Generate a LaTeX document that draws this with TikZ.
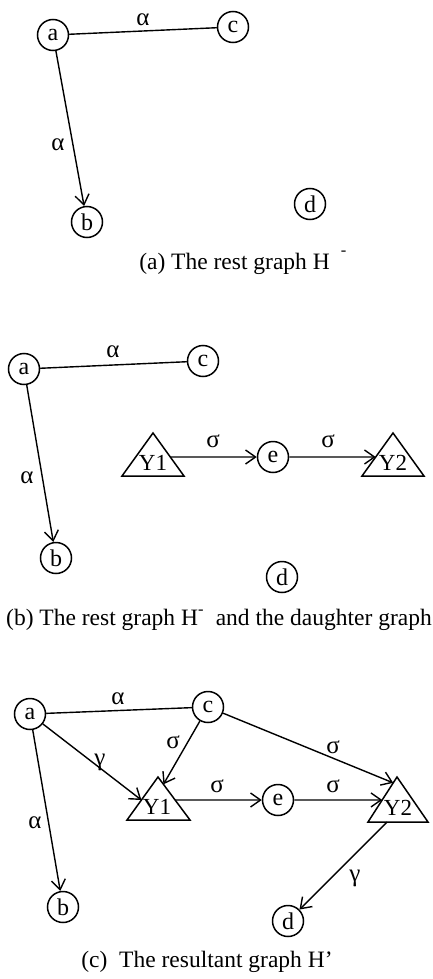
\documentclass[tikz,border=0pt]{standalone}
\usepackage{fontspec}
\setmainfont{Liberation Serif}
\usetikzlibrary{arrows.meta,calc}
\begin{document}
\begin{tikzpicture}[x=1pt,y=-1pt,
  vert/.style={draw,circle,minimum size=31pt,inner sep=0pt,line width=1.5pt,font=\fontsize{24}{26}\selectfont},
  edge/.style={line width=1.4pt},
  arr/.style={line width=1.4pt,-{Straight Barb[length=10pt,width=14pt,line width=1.4pt]}},
  lab/.style={inner sep=0pt,font=\fontsize{25}{27}\selectfont},
  ylab/.style={inner sep=0pt,font=\fontsize{23}{25}\selectfont},
  tri/.style={line width=1.5pt,line join=miter},
  captxt/.style={inner sep=0pt,font=\fontsize{23.5}{26}\selectfont}]
\useasboundingbox (0,0) rectangle (433,979);

% ---------- (a) ----------
\node[vert] (a1) at (53,35) {a};
\node[vert] (c1) at (233,27) {c};
\node[vert] (b1) at (87,222) {b};
\node[vert] (d1) at (310,204) {d};
\draw[edge] (a1) -- (c1);
\draw[arr] (a1) -- (b1);
\node[lab] (l1ac) at (143,20) {α};
\node[lab] (l1ab) at (58,145) {α};
\node[captxt] (capA) at (243,263) {(a) The rest graph H\hspace{11pt}\raisebox{0.2em}{\textsuperscript{-}}};

% ---------- (b) ----------
\node[vert] (a2) at (24,369) {a};
\node[vert] (c2) at (203,361) {c};
\node[vert] (b2) at (56,558) {b};
\node[vert] (d2) at (282,577) {d};
\node[vert] (e2) at (273,457) {e};
\coordinate (T2a) at (153,433);
\coordinate (L2a) at (122,476);
\coordinate (R2a) at (184,476);
\draw[tri] (T2a) -- (L2a) -- (R2a) -- cycle;
\node[ylab] (Y1b) at (153,463) {Y1};
\coordinate (T2b) at (393,433);
\coordinate (L2b) at (362,476);
\coordinate (R2b) at (424,476);
\draw[tri] (T2b) -- (L2b) -- (R2b) -- cycle;
\node[ylab] (Y2b) at (393,463) {Y2};
\coordinate (Y1bE) at ($(T2a)!0.558!(R2a)$);
\coordinate (Y2bW) at ($(T2b)!0.558!(L2b)$);
\draw[edge] (a2) -- (c2);
\draw[arr] (a2) -- (b2);
\draw[arr] (Y1bE) -- (e2);
\draw[arr] (e2) -- (Y2bW);
\node[lab] (l2ac) at (113,352) {α};
\node[lab] (l2ab) at (27,478) {α};
\node[lab] (l2s1) at (213,441) {σ};
\node[lab] (l2s2) at (328,441) {σ};
\node[captxt] (capB) at (219,620) {(b) The rest graph H\raisebox{0.1em}{\textsuperscript{-}}\ \ and the daughter graph};

% ---------- (c) ----------
\node[vert] (a3) at (30,714) {a};
\node[vert] (c3) at (208,707) {c};
\node[vert] (b3) at (63,907) {b};
\node[vert] (d3) at (288,921) {d};
\node[vert] (e3) at (278,800) {e};
\coordinate (T3a) at (158,777);
\coordinate (L3a) at (127,820);
\coordinate (R3a) at (190,820);
\draw[tri] (T3a) -- (L3a) -- (R3a) -- cycle;
\node[ylab] (Y1c) at (157,807) {Y1};
\coordinate (T3b) at (397,777);
\coordinate (L3b) at (368,822);
\coordinate (R3b) at (428,822);
\draw[tri] (T3b) -- (L3b) -- (R3b) -- cycle;
\node[ylab] (Y2c) at (398,808) {Y2};
\coordinate (Y1cW) at ($(T3a)!0.535!(L3a)$);
\coordinate (Y1cN) at ($(T3a)!0.17!(R3a)$);
\coordinate (Y1cE) at ($(T3a)!0.535!(R3a)$);
\coordinate (Y2cN) at ($(T3b)!0.13!(L3b)$);
\coordinate (Y2cW) at ($(T3b)!0.51!(L3b)$);
\coordinate (Y2cS) at ($(L3b)!0.32!(R3b)$);
\draw[edge] (a3) -- (c3);
\draw[arr] (a3) -- (b3);
\draw[arr] (a3) -- (Y1cW);
\draw[arr] (c3) -- (Y1cN);
\draw[arr] (c3) -- (Y2cN);
\draw[arr] (Y1cE) -- (e3);
\draw[arr] (e3) -- (Y2cW);
\draw[arr] (Y2cS) -- (d3);
\node[lab] (l3ac) at (118,699) {α};
\node[lab] (l3ab) at (35,823) {α};
\node[lab] (l3g1) at (100,762) {γ};
\node[lab] (l3s1) at (173,742) {σ};
\node[lab] (l3s2) at (333,747) {σ};
\node[lab] (l3s3) at (217,786) {σ};
\node[lab] (l3s4) at (333,786) {σ};
\node[lab] (l3g2) at (355,878) {γ};
\node[captxt] (capC) at (207,962) {(c)\ \ The resultant graph H’};
\end{tikzpicture}
\end{document}
